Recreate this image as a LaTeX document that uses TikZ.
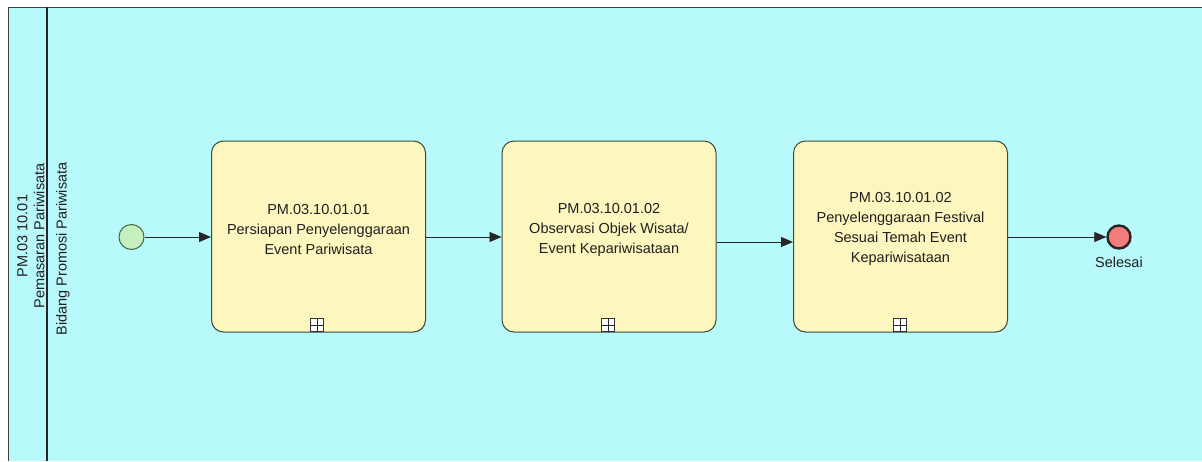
\documentclass[tikz,border=0pt]{standalone}
\usepackage{fontspec}
\setmainfont{Liberation Sans}
\usetikzlibrary{arrows.meta}
\definecolor{poolbg}{HTML}{B8F9FC}
\definecolor{taskfill}{HTML}{FDF6BE}
\definecolor{taskline}{HTML}{3A4A3A}
\definecolor{startfill}{HTML}{C6F0C0}
\definecolor{startline}{HTML}{3F6B3F}
\definecolor{endfill}{HTML}{F27C7C}
\definecolor{txt}{HTML}{202020}
\begin{document}
\begin{tikzpicture}[x=1pt,y=-1pt,
  task/.style={draw=taskline,fill=taskfill,rounded corners=12pt,line width=1pt,minimum width=214pt,minimum height=191pt,inner sep=0pt},
  lbl/.style={align=center,font=\fontsize{14.5}{20}\selectfont,text=txt},
  flow/.style={draw=black!85,line width=0.8pt,-{Triangle[length=12pt,width=10pt]}},
  startev/.style={circle,draw=startline,fill=startfill,line width=1pt,minimum size=25pt,inner sep=0pt},
  endev/.style={circle,draw=black!85,fill=endfill,line width=2.4pt,minimum size=23pt,inner sep=0pt},
  marker/.style={draw=black!80,fill=white,line width=0.9pt,minimum size=13.5pt,inner sep=0pt}
]
\useasboundingbox (0,0) rectangle (1202,461);
\fill[white] (0,0) rectangle (1202,461);
\fill[poolbg] (8,7) rectangle (1202,461);
\draw[black!75,line width=1pt] (8,461) -- (8,7) -- (1202,7);
\draw[black!85,line width=1.2pt] (47,7) -- (47,461);
\node[lbl,rotate=90,font=\fontsize{14.5}{17}\selectfont] (pool) at (31,236) {PM.03 10.01\\Pemasaran Pariwisata};
\node[lbl,rotate=90] (lane) at (63,249) {Bidang Promosi Pariwisata};

\node[startev] (s) at (131.5,237) {};
\node[task] (t1) at (318.5,236.5) {};
\node[task] (t2) at (609,236.5) {};
\node[task] (t3) at (900.5,236.5) {};
\node[endev] (e) at (1119,237) {};
\node[lbl,anchor=north] (sel) at (1119,253) {Selesai};

\node[lbl] (l1) at (318.5,230) {PM.03.10.01.01\\Persiapan Penyelenggaraan\\Event Pariwisata};
\node[lbl] (l2) at (609,230) {PM.03.10.01.02\\Observasi Objek Wisata/\\Event Kepariwisataan};
\node[lbl] (l3) at (900.5,229) {PM.03.10.01.02\\Penyelenggaraan Festival\\Sesuai Temah Event\\Kepariwisataan};

\foreach \n/\x in {m1/317,m2/608,m3/900}{
  \node[marker] (\n) at (\x,325) {};
  \draw[black!85,line width=0.9pt] (\n.north) -- (\n.south) (\n.west) -- (\n.east);
}

\draw[flow] (s.east) -- (t1.west |- s.east);
\draw[flow] (t1.east |- 0,237) -- (t2.west |- 0,237);
\draw[flow] (t2.east |- 0,242) -- (t3.west |- 0,242);
\draw[flow] (t3.east |- 0,237) -- (e.west);
\end{tikzpicture}
\end{document}
